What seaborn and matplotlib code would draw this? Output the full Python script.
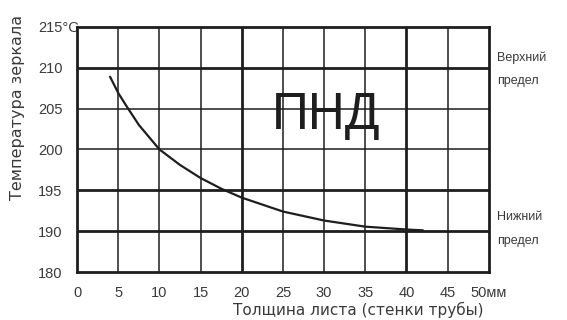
import numpy as np
import pandas as pd
import seaborn as sns
import matplotlib.pyplot as plt

# Кривая температуры зеркала
thickness = [4.0, 5, 6, 7.5, 10, 12.5, 15, 17.5, 20, 25, 30, 35, 40, 42]
temperature = [208.9, 206.9, 205.3, 203.0, 200.0, 198.1, 196.5, 195.2, 194.1, 192.4, 191.3, 190.55, 190.2, 190.1]

x_ticks = [0, 5, 10, 15, 20, 25, 30, 35, 40, 45, 50]
x_labels = ["0", "5", "10", "15", "20", "25", "30", "35", "40", "45", "50мм"]
y_ticks = [185, 190, 195, 200, 205, 210, 215]
y_labels = ["180", "190", "195", "200", "205", "210", "215°C"]

data = pd.DataFrame({"thickness": thickness, "temperature": temperature})

sns.set_theme(style="white")
plt.rcParams['font.family'] = ['Liberation Sans', 'DejaVu Sans']

fig = plt.figure(figsize=(5.67, 3.2), dpi=100)
ax = fig.add_axes([0.136, 0.15, 0.726, 0.766])

ink = "#1e1e1e"
txt = "#3a3a3a"

# сетка: тонкие и толстые линии
for xv in x_ticks[1:-1]:
    lw = 2.0 if xv in (20, 40) else 1.1
    ax.axvline(xv, color=ink, lw=lw, zorder=1)
for yv in y_ticks[1:-1]:
    lw = 2.0 if yv in (190, 195, 210) else 1.1
    ax.axhline(yv, color=ink, lw=lw, zorder=1)

sns.lineplot(data=data, x="thickness", y="temperature", ax=ax,
             color=ink, lw=1.6, zorder=3)

ax.set_xlim(0, 50)
ax.set_ylim(185, 215)
ax.set_xticks(x_ticks)
ax.set_xticklabels(x_labels, color=txt, fontsize=10.5)
ax.set_yticks(y_ticks)
ax.set_yticklabels(y_labels, color=txt, fontsize=10.5)
for lab in ax.get_yticklabels():
    lab.set_ha("left")
ax.tick_params(axis="y", length=0, pad=28)
ax.tick_params(axis="x", length=0, pad=10)
ax.set_xlabel("")
ax.set_ylabel("")
for sp in ax.spines.values():
    sp.set_color(ink)
    sp.set_linewidth(2.0)

ax.text(30.3, 204.2, "ПНД", fontsize=37, color=ink, ha="center", va="center", zorder=4)

wide = ['DejaVu Sans']
fig.text(18 / 567, 1 - 107 / 320, "Температура зеркала", rotation=90,
         ha="center", va="center", fontsize=11.5, color=txt, family=wide)
fig.text(358 / 567, 1 - 310 / 320, "Толщина листа (стенки трубы)",
         ha="center", va="center", fontsize=11, color=txt, family=wide)
fig.text(497 / 567, 1 - 69 / 320, "Верхний\nпредел", ha="left", va="center",
         fontsize=9, color=txt, linespacing=2.2)
fig.text(497 / 567, 1 - 229 / 320, "Нижний\nпредел", ha="left", va="center",
         fontsize=9, color=txt, linespacing=2.3)

fig.savefig("out.png", dpi=100, facecolor="white")
